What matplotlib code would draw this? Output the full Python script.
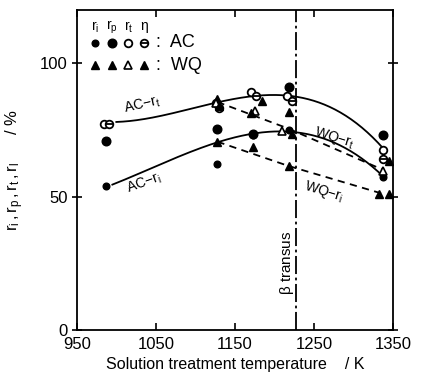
import numpy as np
import matplotlib
matplotlib.use('Agg')
import matplotlib.pyplot as plt

plt.rcParams['font.family'] = ['Liberation Sans', 'DejaVu Sans']
plt.rcParams['mathtext.fontset'] = 'custom'
plt.rcParams['mathtext.rm'] = 'Liberation Sans'
plt.rcParams['mathtext.it'] = 'Liberation Sans'

# ---- data ----
xticks = [950, 1050, 1150, 1250, 1350]
yticks = [0, 50, 100]
beta_transus = 1227

# air cooled (AC)
ac_ri_T = [987, 1128, 1173, 1218, 1338]
ac_ri = [54.0, 62.3, 73.0, 75.0, 57.4]
ac_rp_T = [987, 1128, 1173, 1218, 1338]
ac_rp = [70.9, 75.5, 73.6, 91.3, 73.0]
ac_rt_T = [984, 1126, 1170, 1216, 1338]
ac_rt = [77.4, 85.2, 89.4, 87.9, 67.5]
ac_eta_T = [991, 1130, 1177, 1222, 1338]
ac_eta = [77.4, 83.4, 87.9, 85.7, 64.0]

# water quenched (WQ)
wq_ri_T = [1128, 1173, 1218, 1333]
wq_ri = [70.6, 68.7, 61.5, 51.0]
wq_rp_T = [1128, 1185, 1218, 1345]
wq_rp = [86.8, 85.7, 81.9, 63.4]
wq_rt_T = [1126, 1176, 1210, 1338]
wq_rt = [85.0, 82.0, 74.7, 59.6]
wq_eta_T = [1130, 1170, 1222, 1345]
wq_eta = [84.0, 81.5, 73.6, 51.0]

# hand-drawn trend curves
ac_rt_curve_T = [1000, 1128, 1175, 1218, 1338]
ac_rt_curve = [78.0, 85.5, 87.5, 88.0, 68.0]
ac_ri_curve_T = [995, 1128, 1175, 1218, 1338]
ac_ri_curve = [54.5, 70.5, 73.5, 74.5, 57.5]
wq_rt_line_T = [1128, 1218, 1338]
wq_rt_line = [85.5, 75.5, 60.0]
wq_ri_line_T = [1128, 1218, 1338]
wq_ri_line = [70.6, 61.5, 51.0]

fig = plt.figure(figsize=(4.22, 3.85), dpi=100)
ax = fig.add_axes([0.182, 0.143, 0.749, 0.831])
ax.set_xlim(950, 1350)
ax.set_ylim(0, 120)

k = 'black'
# curves
for T, v in [(ac_rt_curve_T, ac_rt_curve), (ac_ri_curve_T, ac_ri_curve)]:
    c = np.polyfit(T, v, 3)
    xs = np.linspace(T[0], T[-1], 200)
    ax.plot(xs, np.polyval(c, xs), color=k, lw=1.3, zorder=2)
for T, v in [(wq_rt_line_T, wq_rt_line), (wq_ri_line_T, wq_ri_line)]:
    ax.plot(T, v, color=k, lw=1.3, ls=(0, (4, 3)), zorder=2)

ax.axvline(beta_transus, color=k, lw=1.3, ls=(0, (10, 2, 1.5, 2)), zorder=2)

# markers
ms = 5.5
ax.plot(ac_ri_T, ac_ri, 'o', color=k, ms=4.8, ls='none', zorder=4)
ax.plot(ac_rp_T, ac_rp, 'o', color=k, ms=6.2, ls='none', zorder=4)
ax.plot(ac_rt_T, ac_rt, 'o', mfc='white', mec=k, mew=1.3, ms=ms, ls='none', zorder=4)
ax.plot(ac_eta_T, ac_eta, 'o', mfc='white', mec=k, mew=1.3, ms=ms, ls='none', zorder=4)
ax.plot(ac_eta_T, ac_eta, '_', color=k, mew=1.3, ms=ms, ls='none', zorder=5)
ax.plot(wq_ri_T, wq_ri, '^', color=k, ms=ms, ls='none', zorder=4)
ax.plot(wq_rp_T, wq_rp, '^', color=k, ms=ms, ls='none', zorder=4)
ax.plot(wq_rt_T, wq_rt, '^', mfc='white', mec=k, mew=1.2, ms=ms, ls='none', zorder=4)
ax.plot(wq_eta_T, wq_eta, '^', color=k, ms=ms, ls='none', zorder=4)

# in-plot legend
tr = ax.transAxes
lx = [0.057, 0.111, 0.163, 0.213]
for x, s in zip(lx, [r'$\mathregular{r_i}$', r'$\mathregular{r_p}$', r'$\mathregular{r_t}$', r'$\eta$']):
    ax.text(x, 0.945, s, transform=tr, ha='center', va='center', fontsize=10)
ax.plot([lx[0]], [0.897], 'o', color=k, ms=4.8, transform=tr)
ax.plot([lx[1]], [0.897], 'o', color=k, ms=6.2, transform=tr)
ax.plot([lx[2]], [0.897], 'o', mfc='white', mec=k, mew=1.3, ms=ms, transform=tr)
ax.plot([lx[3]], [0.897], 'o', mfc='white', mec=k, mew=1.3, ms=ms, transform=tr)
ax.plot([lx[3]], [0.897], '_', color=k, mew=1.3, ms=ms, transform=tr)
ax.plot([lx[0], lx[1]], [0.828, 0.828], '^', color=k, ms=ms, transform=tr, ls='none')
ax.plot([lx[2]], [0.828], '^', mfc='white', mec=k, mew=1.2, ms=ms, transform=tr)
ax.plot([lx[3]], [0.828], '^', color=k, ms=ms, transform=tr)
ax.text(0.25, 0.897, ':  AC', transform=tr, ha='left', va='center', fontsize=13)
ax.text(0.25, 0.828, ':  WQ', transform=tr, ha='left', va='center', fontsize=13)

# curve labels
ax.text(1032, 84.5, r'AC$\mathregular{-r_t}$', rotation=13, ha='center', va='center', fontsize=10)
ax.text(1035, 55, r'AC$\mathregular{-r_i}$', rotation=20, ha='center', va='center', fontsize=10)
ax.text(1276, 72, r'WQ$\mathregular{-r_t}$', rotation=-17, ha='center', va='center', fontsize=10)
ax.text(1262, 52, r'WQ$\mathregular{-r_i}$', rotation=-17, ha='center', va='center', fontsize=10)
ax.text(1216, 25, r'$\beta$ transus', rotation=90, ha='center', va='center', fontsize=11)

ax.set_xticks(xticks)
ax.set_yticks(yticks)
ax.tick_params(axis='x', direction='in', top=True, length=5, width=1.2, labelsize=12, pad=5)
ax.tick_params(axis='y', direction='inout', right=True, length=7, width=1.2, labelsize=12, pad=3)
for s in ax.spines.values():
    s.set_linewidth(1.3)

ax.set_xlabel('Solution treatment temperature    / K', fontsize=11.5, labelpad=4)
ax.set_ylabel(r'$\mathregular{r_i\,,r_p\,,r_t\,,r_l}$      / %', fontsize=12, labelpad=10)

fig.savefig('out.png', dpi=100)
